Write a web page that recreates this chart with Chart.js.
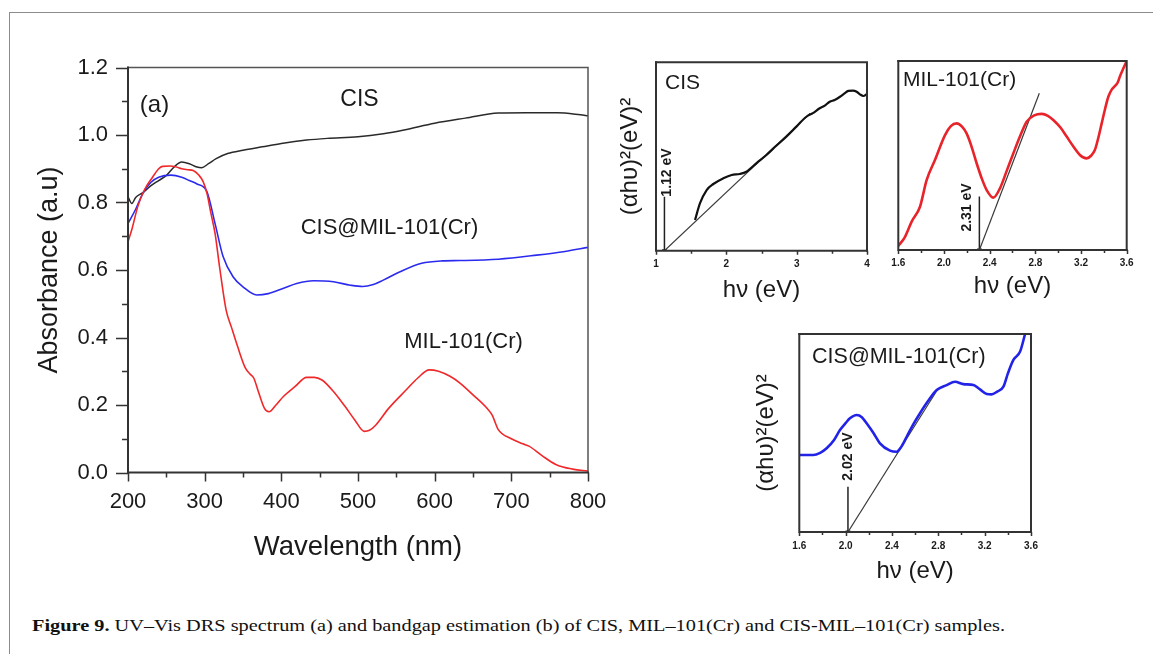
<!DOCTYPE html>
<html><head><meta charset="utf-8">
<script src="https://cdn.jsdelivr.net/npm/chart.js@4.4.1/dist/chart.umd.min.js"></script>
<style>
html,body{margin:0;padding:0;background:#fff;width:1153px;height:654px;overflow:hidden;position:relative;}
#frame{position:absolute;left:9px;top:12px;width:1200px;height:700px;border:1.5px solid #8c8c8c;box-sizing:border-box;}
canvas{position:absolute;}
#cap{position:absolute;left:32px;top:616px;font-family:"Liberation Serif","Times New Roman",serif;font-size:17px;color:#111;white-space:nowrap;transform-origin:0 0;}
</style></head><body>
<div id="frame"></div>
<canvas id="ca"></canvas>
<canvas id="cb1"></canvas>
<canvas id="cb2"></canvas>
<canvas id="cb3"></canvas>
<div id="cap"><b>Figure 9.</b> UV–Vis DRS spectrum (a) and bandgap estimation (b) of CIS, MIL–101(Cr) and CIS-MIL–101(Cr) samples.</div>
<script>
// ---------- Panel (a): UV-Vis DRS ----------
const cisWl  = [200,205,210,220,230,240,250,260,270,280,290,296,305,315,330,350,375,400,433,460,500,533,560,600,640,683,720,760,790,800];
const cisAbs = [0.817,0.797,0.815,0.83,0.85,0.865,0.88,0.905,0.92,0.915,0.905,0.903,0.915,0.93,0.945,0.955,0.965,0.975,0.985,0.99,0.995,1.004,1.015,1.035,1.05,1.065,1.066,1.066,1.06,1.057];

const mofWl  = [200,205,213,222,232,240,245,255,262,270,278,285,292,298,303,308,313.5,320,328,335,343,353,360,364,370,378,384,393,403,418,433,443,453,468,483,496,508,515,523,540,563,578,593,605,620,633,650,668,675,683,700,715,723,740,758,780,800];
const mofAbs = [0.684,0.72,0.79,0.84,0.875,0.9,0.907,0.908,0.906,0.9,0.897,0.895,0.882,0.862,0.827,0.77,0.709,0.6,0.481,0.43,0.373,0.31,0.29,0.28,0.24,0.19,0.18,0.2,0.226,0.255,0.282,0.282,0.274,0.24,0.196,0.155,0.122,0.125,0.14,0.19,0.245,0.28,0.304,0.3,0.285,0.265,0.23,0.191,0.17,0.127,0.1,0.085,0.078,0.05,0.024,0.01,0.004];

const compWl  = [200,210,220,230,240,256,270,280,290,303,313.5,324,337,350,368,383,403,420,442,468,490,506,520,533,555,583,610,633,683,733,770,800];
const compAbs = [0.738,0.78,0.83,0.86,0.875,0.881,0.875,0.865,0.855,0.832,0.738,0.64,0.58,0.55,0.526,0.53,0.546,0.56,0.568,0.565,0.555,0.551,0.557,0.57,0.595,0.62,0.627,0.628,0.632,0.644,0.655,0.667];

const aXTicks = [200,300,400,500,600,700,800];
const aYTicks = [0.0,0.2,0.4,0.6,0.8,1.0,1.2];

// ---------- Panel (b): Tauc plots ----------
const b1E = [1.555,1.626,1.72,1.815,1.957,2.076,2.19,2.285,2.43,2.57,2.71,2.853,3.0,3.138,3.23,3.327,3.40,3.47,3.54,3.616,3.68,3.735,3.80,3.853,3.90,3.948,4.0];
const b1Y = [0.163,0.252,0.322,0.354,0.384,0.402,0.407,0.419,0.465,0.508,0.557,0.605,0.66,0.711,0.73,0.756,0.77,0.791,0.80,0.817,0.835,0.848,0.85,0.844,0.83,0.821,0.832];
const b1Gap = 1.12, b1MarkTop = 0.287, b1FitEnd = [3.19, 0.729];
const b1Ticks = [1,2,3,4];

const b2E = [1.6,1.659,1.717,1.79,1.848,1.921,2.009,2.06,2.111,2.16,2.198,2.24,2.286,2.33,2.374,2.432,2.49,2.55,2.607,2.665,2.724,2.79,2.856,2.91,2.957,3.02,3.074,3.13,3.19,3.249,3.29,3.322,3.35,3.381,3.41,3.439,3.47,3.498,3.52,3.542,3.57,3.6];
const b2Y = [0.021,0.07,0.15,0.229,0.37,0.476,0.608,0.655,0.67,0.652,0.617,0.55,0.459,0.38,0.317,0.277,0.326,0.42,0.511,0.6,0.679,0.712,0.72,0.71,0.688,0.648,0.6,0.55,0.503,0.485,0.5,0.53,0.59,0.67,0.745,0.811,0.85,0.868,0.885,0.921,0.96,1.0];
const b2Gap = 2.31, b2MarkTop = 0.283, b2FitEnd = [2.835, 0.829];

const b3E = [1.6,1.721,1.78,1.836,1.9,1.951,2.0,2.037,2.095,2.14,2.181,2.24,2.296,2.383,2.44,2.48,2.527,2.58,2.642,2.71,2.786,2.872,2.944,3.016,3.103,3.16,3.218,3.26,3.305,3.362,3.40,3.448,3.506,3.549];
const b3Y = [0.389,0.389,0.4,0.423,0.465,0.515,0.55,0.574,0.591,0.58,0.549,0.5,0.448,0.411,0.405,0.43,0.481,0.54,0.6,0.66,0.717,0.742,0.759,0.747,0.742,0.72,0.697,0.695,0.708,0.734,0.8,0.869,0.911,1.0];
const b3Gap = 2.02, b3MarkTop = 0.229, b3FitEnd = [2.80, 0.726];
const b23Ticks = [1.6,2.0,2.4,2.8,3.2,3.6];

// ---------- helpers ----------
const SANS = '"Liberation Sans", Arial, sans-serif';
const pts = (xs, ys) => xs.map((x, i) => ({x, y: ys[i]}));
const mids = a => a.slice(1).map((v, i) => (v + a[i]) / 2);

const deco = {
  id: 'deco',
  afterDraw(chart, args, o) {
    const ctx = chart.ctx, ca = chart.chartArea;
    ctx.save();
    (o.ticks || []).forEach(s => {
      const sc = chart.scales[s.axis];
      ctx.strokeStyle = s.color || '#333'; ctx.lineWidth = s.width || 1.5;
      ctx.beginPath();
      s.values.forEach(v => {
        const p = Math.round(sc.getPixelForValue(v)) + 0.5;
        if (s.axis === 'x') { ctx.moveTo(p, ca.bottom); ctx.lineTo(p, ca.bottom + s.len); }
        else { ctx.moveTo(ca.left, p); ctx.lineTo(ca.left - s.len, p); }
      });
      ctx.stroke();
    });
    const b = o.box;
    ctx.lineCap = 'square';
    ctx.strokeStyle = b.tr; ctx.lineWidth = b.trw;
    ctx.beginPath(); ctx.moveTo(ca.left, ca.top); ctx.lineTo(ca.right, ca.top); ctx.lineTo(ca.right, ca.bottom); ctx.stroke();
    ctx.strokeStyle = b.bl; ctx.lineWidth = b.blw;
    ctx.beginPath(); ctx.moveTo(ca.left, ca.top); ctx.lineTo(ca.left, ca.bottom); ctx.lineTo(ca.right, ca.bottom); ctx.stroke();
    (o.texts || []).forEach(t => {
      const x = chart.scales.x.getPixelForValue(t.x), y = chart.scales.y.getPixelForValue(t.y);
      ctx.save();
      ctx.translate(x, y);
      if (t.rot) ctx.rotate(t.rot * Math.PI / 180);
      ctx.font = t.font; ctx.fillStyle = t.color || '#1a1a1a';
      ctx.textAlign = t.align || 'center'; ctx.textBaseline = 'middle';
      ctx.fillText(t.t, 0, 0);
      ctx.restore();
    });
    ctx.restore();
  }
};

function build(id, box, area, sc, datasets, decoOpts) {
  const cv = document.getElementById(id);
  cv.style.left = box.l + 'px'; cv.style.top = box.t + 'px';
  cv.width = box.w; cv.height = box.h;
  const yW = area.l - box.l, xH = box.t + box.h - area.b;
  const padTop = area.t - box.t, padRight = box.l + box.w - area.r;
  const x = sc.x, y = sc.y;
  return new Chart(cv, {
    type: 'line',
    data: {datasets},
    options: {
      responsive: false, animation: false, devicePixelRatio: 1,
      layout: {padding: {top: padTop, right: padRight, left: 0, bottom: 0}},
      plugins: {legend: {display: false}, tooltip: {enabled: false}, deco: decoOpts},
      elements: {point: {radius: 0}, line: {borderJoinStyle: 'round', cubicInterpolationMode: 'monotone'}},
      scales: {
        x: {
          type: 'linear', min: x.min, max: x.max,
          afterFit(s) { s.height = xH; s.paddingLeft = 0; s.paddingRight = 0; },
          afterBuildTicks(s) { s.ticks = x.ticks.map(v => ({value: v})); },
          grid: {display: false, drawTicks: false},
          border: {display: false},
          ticks: {padding: x.pad, font: x.font, color: '#1a1a1a', autoSkip: false, maxRotation: 0,
                  callback: v => x.fmt(v)},
          title: {display: !!x.title, text: x.title, font: x.tfont, color: '#1a1a1a', padding: {top: 0, bottom: x.tpad}}
        },
        y: {
          type: 'linear', min: y.min, max: y.max,
          afterFit(s) { s.width = yW; s.paddingTop = 0; s.paddingBottom = 0; },
          afterBuildTicks(s) { s.ticks = (y.ticks || []).map(v => ({value: v})); },
          grid: {display: false, drawTicks: false},
          border: {display: false},
          ticks: {display: !!y.ticks, padding: y.pad || 0, font: y.font, color: '#1a1a1a', autoSkip: false,
                  callback: v => y.fmt ? y.fmt(v) : ''},
          title: {display: !!y.title, text: y.title, font: y.tfont, color: '#1a1a1a', padding: {top: y.tpad || 0, bottom: 0}}
        }
      }
    },
    plugins: [deco]
  });
}

// ---------- Panel (a) ----------
build('ca', {l: 20, t: 40, w: 590, h: 545}, {l: 128, t: 67.5, r: 588, b: 472.5},
  {
    x: {min: 200, max: 800, ticks: aXTicks, pad: 16, font: {family: SANS, size: 22}, fmt: v => String(v),
        title: 'Wavelength (nm)', tfont: {family: SANS, size: 27.5}, tpad: 21},
    y: {min: 0, max: 1.2, ticks: aYTicks, pad: 20, font: {family: SANS, size: 22}, fmt: v => v.toFixed(1),
        title: 'Absorbance (a.u)', tfont: {family: SANS, size: 27}, tpad: 13}
  },
  [
    {data: pts(mofWl, mofAbs), borderColor: '#f0282a', borderWidth: 1.6, fill: false},
    {data: pts(compWl, compAbs), borderColor: '#2b2bef', borderWidth: 1.6, fill: false},
    {data: pts(cisWl, cisAbs), borderColor: '#2a2a2a', borderWidth: 1.5, fill: false}
  ],
  {
    box: {bl: '#333', blw: 2, tr: '#555', trw: 1.5},
    ticks: [
      {axis: 'x', values: aXTicks, len: 9}, {axis: 'x', values: mids(aXTicks), len: 5},
      {axis: 'y', values: aYTicks, len: 12}, {axis: 'y', values: mids(aYTicks), len: 6}
    ],
    texts: [
      {x: 234.6, y: 1.089, t: '(a)', font: '24px ' + SANS},
      {x: 502, y: 1.104, t: 'CIS', font: '23px ' + SANS},
      {x: 541, y: 0.724, t: 'CIS@MIL-101(Cr)', font: '22px ' + SANS},
      {x: 637.6, y: 0.388, t: 'MIL-101(Cr)', font: '22px ' + SANS}
    ]
  });

const bTickFont = {family: SANS, size: 10, weight: 'bold'};
const hvTitle = 'hν (eV)';
const yTitle = '(αhυ)²(eV)²';
const markDs = (gap, top) => ({data: [{x: gap, y: 0}, {x: gap, y: top}], borderColor: '#222', borderWidth: 1.5,
  pointRadius: [3, 0], pointStyle: 'triangle', rotation: 180, pointBackgroundColor: '#222', pointBorderWidth: 0, cubicInterpolationMode: 'default'});
const fitDs = (gap, end) => ({data: [{x: gap, y: 0}, {x: end[0], y: end[1]}], borderColor: '#3a3a3a', borderWidth: 1.2, cubicInterpolationMode: 'default'});

// ---------- Panel (b) CIS ----------
build('cb1', {l: 610, t: 30, w: 280, h: 280}, {l: 656, t: 62.3, r: 867, b: 250.7},
  {
    x: {min: 1, max: 4, ticks: b1Ticks, pad: 7.5, font: bTickFont, fmt: v => String(v),
        title: hvTitle, tfont: {family: SANS, size: 24}, tpad: 5},
    y: {min: 0, max: 1, title: yTitle, tfont: {family: SANS, size: 24}, tpad: 6}
  },
  [
    {data: pts(b1E, b1Y), borderColor: '#111', borderWidth: 2.2},
    fitDs(b1Gap, b1FitEnd),
    markDs(b1Gap, b1MarkTop)
  ],
  {
    box: {bl: '#333', blw: 2, tr: '#333', trw: 2},
    ticks: [{axis: 'x', values: b1Ticks, len: 4}, {axis: 'x', values: mids(b1Ticks), len: 3}],
    texts: [
      {x: 1.128, y: 0.89, t: 'CIS', font: '21px ' + SANS, align: 'left'},
      {x: 1.156, y: 0.415, t: b1Gap.toFixed(2) + ' eV', font: 'bold 14px ' + SANS, rot: -90}
    ]
  });

// ---------- Panel (b) MIL-101(Cr) ----------
build('cb2', {l: 880, t: 30, w: 273, h: 280}, {l: 898.3, t: 61, r: 1126.7, b: 250},
  {
    x: {min: 1.6, max: 3.6, ticks: b23Ticks, pad: 7.5, font: bTickFont, fmt: v => v.toFixed(1),
        title: hvTitle, tfont: {family: SANS, size: 24}, tpad: 9},
    y: {min: 0, max: 1}
  },
  [
    {data: pts(b2E, b2Y), borderColor: '#e8232a', borderWidth: 2.6},
    fitDs(b2Gap, b2FitEnd),
    markDs(b2Gap, b2MarkTop)
  ],
  {
    box: {bl: '#333', blw: 2, tr: '#333', trw: 2},
    ticks: [{axis: 'x', values: b23Ticks, len: 4}, {axis: 'x', values: mids(b23Ticks), len: 3}],
    texts: [
      {x: 1.641, y: 0.9, t: 'MIL-101(Cr)', font: '21px ' + SANS, align: 'left'},
      {x: 2.206, y: 0.225, t: b2Gap.toFixed(2) + ' eV', font: 'bold 14px ' + SANS, rot: -90}
    ]
  });

// ---------- Panel (b) CIS@MIL-101(Cr) ----------
build('cb3', {l: 740, t: 310, w: 320, h: 280}, {l: 799.3, t: 334, r: 1031, b: 532},
  {
    x: {min: 1.6, max: 3.6, ticks: b23Ticks, pad: 8.5, font: bTickFont, fmt: v => v.toFixed(1),
        title: hvTitle, tfont: {family: SANS, size: 24}, tpad: 4},
    y: {min: 0, max: 1, title: yTitle, tfont: {family: SANS, size: 24}, tpad: 12}
  },
  [
    {data: pts(b3E, b3Y), borderColor: '#2323e8', borderWidth: 2.6},
    fitDs(b3Gap, b3FitEnd),
    markDs(b3Gap, b3MarkTop)
  ],
  {
    box: {bl: '#333', blw: 2, tr: '#333', trw: 2},
    ticks: [{axis: 'x', values: b23Ticks, len: 4}, {axis: 'x', values: mids(b23Ticks), len: 3}],
    texts: [
      {x: 1.71, y: 0.884, t: 'CIS@MIL-101(Cr)', font: '21.5px ' + SANS, align: 'left'},
      {x: 2.02, y: 0.381, t: b3Gap.toFixed(2) + ' eV', font: 'bold 14px ' + SANS, rot: -90}
    ]
  });

// caption width fit
const cap = document.getElementById('cap');
const w = cap.getBoundingClientRect().width;
cap.style.transform = 'scaleX(' + (973 / w) + ')';
</script>
</body></html>
